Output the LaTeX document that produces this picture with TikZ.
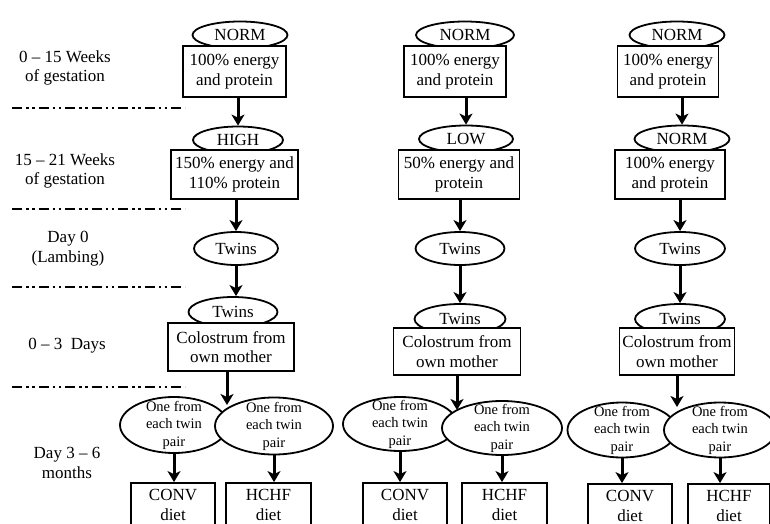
\documentclass[tikz,border=0pt]{standalone}
\usepackage{fontspec}
\setmainfont{Liberation Serif}
\usepackage{xcolor}
\usepackage{tikz}
\usetikzlibrary{shapes,calc,arrows.meta}

\tikzset{
  oval/.style={ellipse, draw, line width=1.8pt, fill=white, inner sep=1pt},
  feedbox/.style={rectangle, draw, line width=1.8pt, fill=white, align=center, inner sep=2pt},
  flow/.style={-{Stealth[length=11pt,width=13pt,inset=3pt]}, line width=3pt},
  phase/.style={line width=2.8pt, dash pattern=on 10pt off 4pt on 2.5pt off 3.5pt on 2.5pt off 4pt},
  stage/.style={align=center},
  pairtext/.style={font=\fontsize{14.5}{17.5}\selectfont, align=center}
}

\begin{document}
\begin{tikzpicture}[x=1pt, y=-1pt, font=\fontsize{17}{19.5}\selectfont]
    \useasboundingbox (0,0) rectangle (770,524);
    \clip (0,0) rectangle (770,524);

    % time line on the left
    \node[stage] (wk15) at (65,68) {0 – 15 Weeks\\of gestation};
    \node[stage] (wk21) at (65,171) {15 – 21 Weeks\\of gestation};
    \node[stage] (lamb) at (68,248.5) {Day 0\\(Lambing)};
    \node[stage] (days3) at (67,346) {0 – 3 \ Days};
    \node[stage] (months) at (67,463) {Day 3 – 6\\months};
    \draw[phase] (12,108) -- (185,108);
    \draw[phase] (12,209) -- (185,209);
    \draw[phase] (12,287) -- (185,287);
    \draw[phase] (12,387) -- (185,387);

    % HIGH group
    \node[oval, minimum width=95pt, minimum height=27pt] (normA1) at (240,35) {NORM};
    \node[feedbox, minimum width=103pt, minimum height=51pt] (feedA1) at (234.5,71.5) {100\% energy\\and protein};
    \node[oval, minimum width=90pt, minimum height=27pt] (diet1) at (238,140) {HIGH};
    \node[feedbox, minimum width=127pt, minimum height=49pt] (feedB1) at (234.5,174.5) {150\% energy and\\110\% protein};
    \node[oval, minimum width=84pt, minimum height=33pt] (twinsA1) at (236,248.5) {Twins};
    \node[oval, minimum width=89pt, minimum height=30pt] (twinsB1) at (233,312) {Twins};
    \node[feedbox, minimum width=126pt, minimum height=48pt] (colos1) at (231,347) {Colostrum from\\own mother};
    \coordinate (split1) at (227,405);
    \node[oval, minimum width=108pt, minimum height=56pt, label={[pairtext]center:{One from\\each twin\\pair}}] (pairL1) at (174,425) {};
    \node[oval, minimum width=118pt, minimum height=57pt, label={[pairtext]center:{One from\\each twin\\pair}}] (pairR1) at (274,426) {};
    \node[feedbox, minimum width=84pt, minimum height=44pt] (conv1) at (173,505) {CONV\\diet};
    \node[feedbox, minimum width=85pt, minimum height=44pt] (hchf1) at (268.5,505) {HCHF\\diet};

    \draw[flow] (feedA1.south -| diet1.north) -- (diet1.north);
    \draw[flow] (feedB1.south -| twinsA1.north) -- (twinsA1.north);
    \draw[flow] (twinsA1.south) -- (twinsA1.south |- twinsB1.north);
    \draw[flow] (colos1.south -| split1) -- (split1);
    \draw[flow] (pairL1.south) -- (pairL1.south |- conv1.north);
    \draw[flow] (pairR1.south) -- (pairR1.south |- hchf1.north);

    % LOW group
    \node[oval, minimum width=98pt, minimum height=27pt] (normA2) at (465,35) {NORM};
    \node[feedbox, minimum width=102pt, minimum height=51pt] (feedA2) at (455,71.5) {100\% energy\\and protein};
    \node[oval, minimum width=94pt, minimum height=27pt] (diet2) at (466,139) {LOW};
    \node[feedbox, minimum width=121pt, minimum height=49pt] (feedB2) at (459,174.5) {50\% energy and\\protein};
    \node[oval, minimum width=89pt, minimum height=33pt] (twinsA2) at (460,248.5) {Twins};
    \node[oval, minimum width=91pt, minimum height=30pt] (twinsB2) at (460,319) {Twins};
    \node[feedbox, minimum width=127pt, minimum height=47pt] (colos2) at (457,351.5) {Colostrum from\\own mother};
    \coordinate (split2) at (457,410);
    \node[oval, minimum width=114pt, minimum height=54pt, label={[pairtext]center:{One from\\each twin\\pair}}] (pairL2) at (400,424) {};
    \node[oval, minimum width=120pt, minimum height=54pt, label={[pairtext]center:{One from\\each twin\\pair}}] (pairR2) at (502,428) {};
    \node[feedbox, minimum width=84pt, minimum height=44pt] (conv2) at (405,505) {CONV\\diet};
    \node[feedbox, minimum width=85pt, minimum height=44pt] (hchf2) at (504.5,505) {HCHF\\diet};

    \draw[flow] (feedA2.south -| diet2.north) -- (diet2.north);
    \draw[flow] (feedB2.south -| twinsA2.north) -- (twinsA2.north);
    \draw[flow] (twinsA2.south) -- (twinsA2.south |- twinsB2.north);
    \draw[flow] (colos2.south -| split2) -- (split2);
    \draw[flow] (pairL2.south) -- (pairL2.south |- conv2.north);
    \draw[flow] (pairR2.south) -- (pairR2.south |- hchf2.north);

    % NORM group
    \node[oval, minimum width=95pt, minimum height=27pt] (normA3) at (677,35) {NORM};
    \node[feedbox, minimum width=101pt, minimum height=51pt] (feedA3) at (668,71.5) {100\% energy\\and protein};
    \node[oval, minimum width=95pt, minimum height=27pt] (diet3) at (682,139) {NORM};
    \node[feedbox, minimum width=110pt, minimum height=49pt] (feedB3) at (670,174.5) {100\% energy\\and protein};
    \node[oval, minimum width=90pt, minimum height=33pt] (twinsA3) at (680,248.5) {Twins};
    \node[oval, minimum width=90pt, minimum height=30pt] (twinsB3) at (680,319) {Twins};
    \node[feedbox, minimum width=115pt, minimum height=47pt] (colos3) at (677,351.5) {Colostrum from\\own mother};
    \coordinate (split3) at (677,407);
    \node[oval, minimum width=109pt, minimum height=55pt, label={[pairtext]center:{One from\\each twin\\pair}}] (pairL3) at (622,430) {};
    \node[oval, minimum width=112pt, minimum height=55pt, label={[pairtext]center:{One from\\each twin\\pair}}] (pairR3) at (720,430) {};
    \node[feedbox, minimum width=84pt, minimum height=44pt] (conv3) at (630,506) {CONV\\diet};
    \node[feedbox, minimum width=82pt, minimum height=44pt] (hchf3) at (729,506) {HCHF\\diet};

    \draw[flow] (feedA3.south -| diet3.north) -- (diet3.north);
    \draw[flow] (feedB3.south -| twinsA3.north) -- (twinsA3.north);
    \draw[flow] (twinsA3.south) -- (twinsA3.south |- twinsB3.north);
    \draw[flow] (colos3.south -| split3) -- (split3);
    \draw[flow] (pairL3.south) -- (pairL3.south |- conv3.north);
    \draw[flow] (pairR3.south) -- (pairR3.south |- hchf3.north);
\end{tikzpicture}
\end{document}
